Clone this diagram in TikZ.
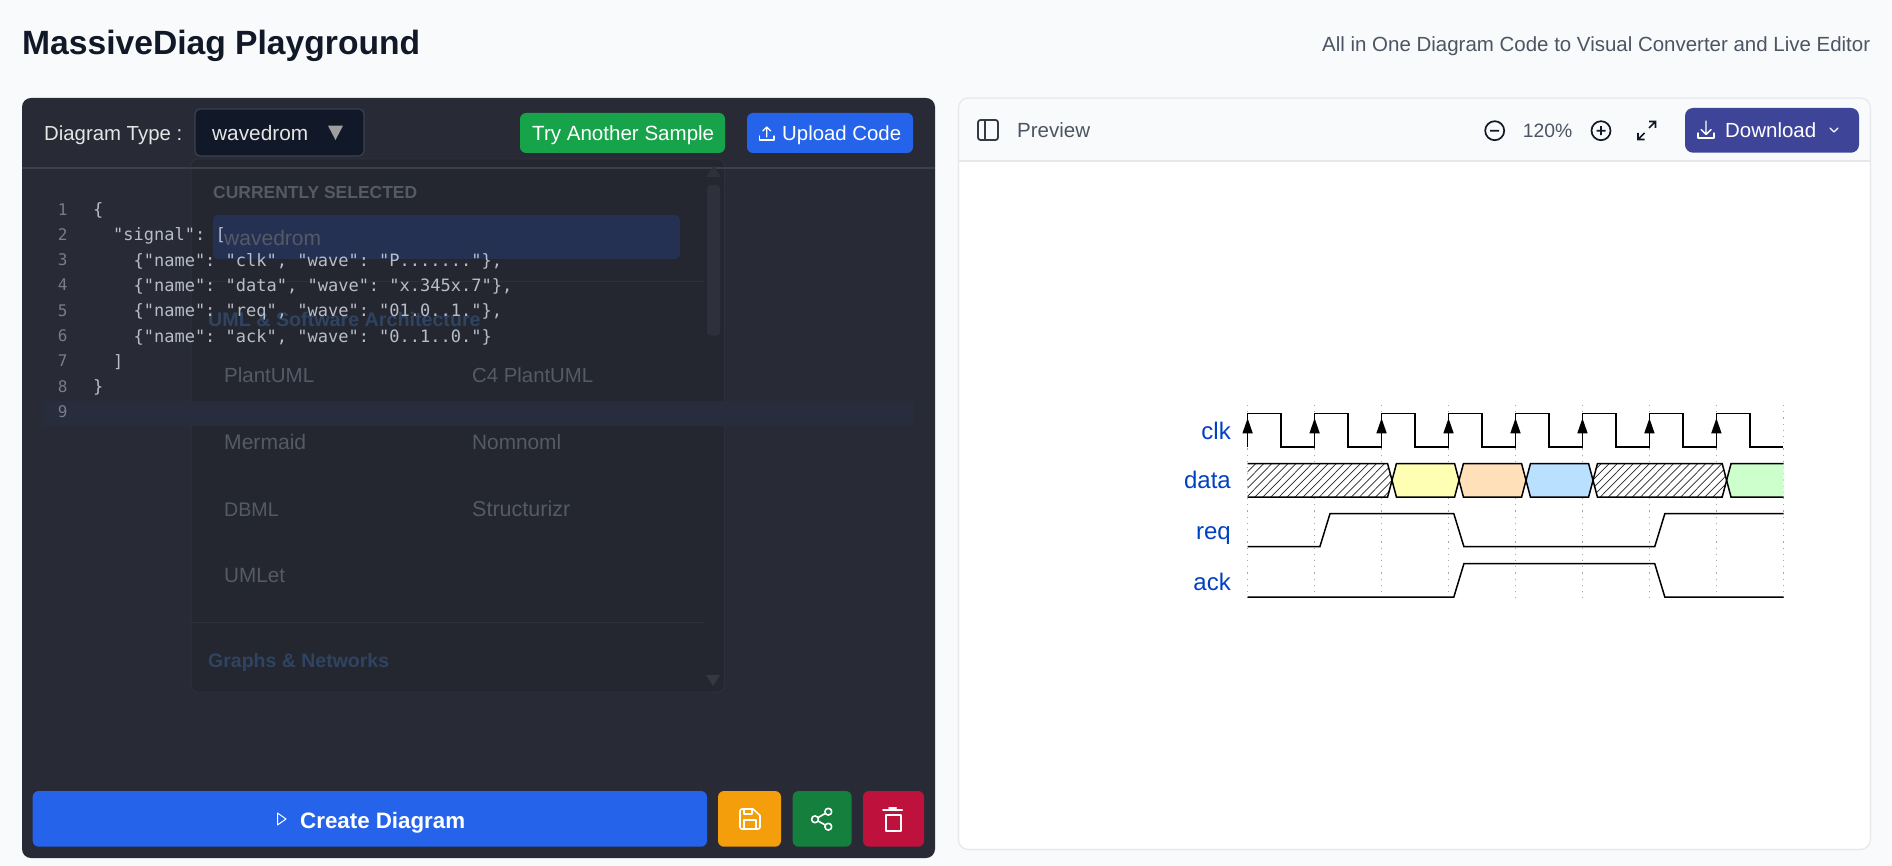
\documentclass[tikz,border=0pt]{standalone}
\usepackage{graphicx}
\usepackage{fontspec}
\setmainfont{Liberation Sans}
\newfontfamily\cfont{DejaVu Sans Mono}
\frenchspacing
\definecolor{pagebg}{HTML}{F9FAFB}
\definecolor{panel}{HTML}{282A36}
\definecolor{drop}{HTML}{24272F}
\definecolor{dropline}{HTML}{2E313B}
\definecolor{hdrline}{HTML}{3C3F50}
\definecolor{sel}{HTML}{111827}
\definecolor{selb}{HTML}{3A4252}
\definecolor{hilite}{HTML}{253152}
\definecolor{band}{HTML}{272D3C}
\definecolor{dimtxt}{HTML}{555A66}
\definecolor{cattxt}{HTML}{2F4462}
\definecolor{codetxt}{HTML}{B8BDC8}
\definecolor{numtxt}{HTML}{777D8A}
\definecolor{bluebtn}{HTML}{2563EB}
\definecolor{greenbtn}{HTML}{16A34A}
\definecolor{ambbtn}{HTML}{F59E0B}
\definecolor{sharebtn}{HTML}{15803D}
\definecolor{redbtn}{HTML}{BE123C}
\definecolor{dlbtn}{HTML}{3E4598}
\definecolor{graytxt}{HTML}{4B5563}
\definecolor{ink}{HTML}{111827}
\definecolor{edge}{HTML}{E5E7EB}
\definecolor{wavelabel}{HTML}{0041C4}
\definecolor{cthree}{HTML}{FFFFB4}
\definecolor{cfour}{HTML}{FFE0B9}
\definecolor{cfive}{HTML}{B9E0FF}
\definecolor{cseven}{HTML}{CCFFCC}
% name, left x, centre y, width, colour, font, text
\newcommand{\ftext}[7]{\node[anchor=west,inner sep=0pt,text=#5] (#1) at (#2,#3+2.4) {\resizebox{#4pt}{!}{\fontsize{20pt}{24pt}\selectfont #6\vphantom{Xg}#7}};}
\newcommand{\codeline}[3]{\node[anchor=west,inner sep=0pt,text=codetxt,font=\cfont\fontsize{17pt}{20pt}\selectfont] (code#1) at (#2,#1*25.3+185.6) {\vphantom{Xg}#3};}
\tikzset{
  wave/.style={draw=black,line width=1.5pt,line join=miter},
  gridl/.style={draw=gray!70,line width=0.9pt,dash pattern=on 1.2pt off 5pt},
  icon/.style={draw=white,line width=1.6pt,line cap=round,line join=round},
  btn/.style={rounded corners=6pt},
  hatchl/.style={draw=black!85,line width=0.7pt},
}
\begin{document}
\begin{tikzpicture}[x=1pt,y=-1pt]
\useasboundingbox (0,0) rectangle (1892,866);
\fill[pagebg] (0,0) rectangle (1892,866);
% header
\ftext{title}{22}{43.4}{398}{ink}{\bfseries}{MassiveDiag Playground}
\ftext{subtitle}{1322}{43.4}{548}{graytxt}{}{All in One Diagram Code to Visual Converter and Live Editor}
% left panel
\fill[panel,rounded corners=9pt] (22,98) rectangle (935,858);
% dropdown ghost
\filldraw[fill=drop,draw=dropline,line width=1pt,rounded corners=7pt] (191,159) rectangle (724.5,692);
\draw[hdrline,line width=1.5pt] (22,168) -- (935,168);
\fill[band] (44,401) rectangle (914,426);
\fill[hilite,rounded corners=5pt] (213,215) rectangle (680,259);
\draw[dropline,line width=1pt] (191,282) -- (703,282);
\draw[dropline,line width=1pt] (191,622.7) -- (703,622.7);
\fill[dropline] (706,177) -- (721,177) -- (713.5,166) -- cycle;
\fill[dropline,rounded corners=4pt] (707,185) rectangle (720,335.7);
\fill[dropline!115!black] (706,675) -- (720,675) -- (713,686) -- cycle;
\ftext{cursel}{213}{192}{204}{dimtxt}{\bfseries}{CURRENTLY SELECTED}
\ftext{wavesel}{224}{237.7}{97}{dimtxt}{}{wavedrom}
\ftext{catuml}{208}{319}{272.5}{cattxt}{\bfseries}{UML \& Software Architecture}
\ftext{plant}{224}{375}{90}{dimtxt}{}{PlantUML}
\ftext{cfour}{472}{375}{121}{dimtxt}{}{C4 PlantUML}
\ftext{merm}{224}{441.7}{82}{dimtxt}{}{Mermaid}
\ftext{nomn}{472}{441.7}{89}{dimtxt}{}{Nomnoml}
\ftext{dbml}{224}{509}{54.6}{dimtxt}{}{DBML}
\ftext{struc}{472}{509}{98}{dimtxt}{}{Structurizr}
\ftext{umlet}{224}{575}{61}{dimtxt}{}{UMLet}
\ftext{catgraph}{208}{660}{181}{cattxt}{\bfseries}{Graphs \& Networks}
% toolbar
\ftext{dtype}{44}{133}{138}{gray!20}{}{Diagram Type :}
\filldraw[fill=sel,draw=selb,line width=1.2pt,rounded corners=5pt] (195,109) rectangle (364,156);
\ftext{wavetype}{212}{133}{96}{gray!20}{}{wavedrom}
\fill[gray!75] (328,125.7) -- (343,125.7) -- (335.5,140) -- cycle;
\fill[greenbtn,btn] (520,113) rectangle (725,153);
\ftext{trybtn}{532}{133}{182}{white}{}{Try Another Sample}
\fill[bluebtn,btn] (747,113) rectangle (913,153);
\draw[icon,line width=1.2pt] (766.7,137) -- (766.7,127) (762.7,131) -- (766.7,127) -- (770.7,131);
\draw[icon,line width=1.2pt] (759.5,136) -- (759.5,140) -- (774,140) -- (774,136);
\ftext{upbtn}{782}{133}{119}{white}{}{Upload Code}
% code
\foreach \i in {1,...,9} {
  \node[anchor=center,inner sep=0pt,text=numtxt,font=\cfont\fontsize{16pt}{20pt}\selectfont] (num\i) at (62.7,\i*25.3+185.6) {\vphantom{Xg}\i};
}
\codeline{1}{93}{\{}
\codeline{2}{113}{"signal": [}
\codeline{3}{133.4}{\{"name": "clk", "wave": "P......."\},}
\codeline{4}{133.4}{\{"name": "data", "wave": "x.345x.7"\},}
\codeline{5}{133.4}{\{"name": "req", "wave": "01.0..1."\},}
\codeline{6}{133.4}{\{"name": "ack", "wave": "0..1..0."\}}
\codeline{7}{113}{]}
\codeline{8}{93}{\}}
% bottom buttons
\fill[bluebtn,btn] (32.7,791) rectangle (707,846.7);
\draw[white,line width=1pt,line join=round] (277.5,813) -- (286,819) -- (277.5,825) -- cycle;
\ftext{createbtn}{300}{820}{165}{white}{\bfseries}{Create Diagram}
\fill[ambbtn,btn] (718,791) rectangle (781,846.7);
\draw[icon] (742,809) -- (753,809) -- (760,815.5) -- (760,827) [rounded corners=2pt] -- (760,829) -- (740,829) -- (740,809) -- (742,809);
\draw[icon] (744,809) -- (744,814) -- (752,814) -- (752,809);
\draw[icon] (744,829) -- (744,820) -- (756,820) -- (756,829);
\fill[sharebtn,btn] (792.7,791) rectangle (851.7,846.7);
\draw[icon] (828.3,811.7) circle (3.4) (815,819.3) circle (3.4) (828.3,826.7) circle (3.4);
\draw[icon] (818,817.6) -- (825.3,813.4) (818,821) -- (825.3,825);
\fill[redbtn,btn] (863,791) rectangle (924,846.7);
\draw[icon,line width=2pt] (883,810) -- (902,810) (889,807.5) -- (896,807.5);
\draw[icon,line width=2pt] (886,815) -- (886,830.5) -- (900.5,830.5) -- (900.5,815) -- cycle;
% preview panel
\fill[white,rounded corners=10pt] (958.4,98) rectangle (1870.4,849.5);
\begin{scope}
\clip[rounded corners=10pt] (958.4,98) rectangle (1870.4,849.5);
\fill[pagebg] (958.4,98) rectangle (1870.4,161);
\draw[edge,line width=1.2pt] (958.4,161) -- (1870.4,161);
\end{scope}
\draw[edge,line width=1.2pt,rounded corners=10pt] (958.4,98) rectangle (1870.4,849.5);
\draw[graytxt!70!black,line width=1.8pt,rounded corners=2.5pt] (978,120) rectangle (998,140);
\draw[graytxt!70!black,line width=1.8pt] (985,120) -- (985,140);
\ftext{preview}{1017}{130}{73}{graytxt}{}{Preview}
\draw[ink,line width=1.7pt] (1494.7,130.7) circle (9.5) (1490.2,130.7) -- (1499.2,130.7);
\ftext{zoomv}{1522.7}{130.7}{49.5}{graytxt}{}{120\%}
\draw[ink,line width=1.7pt] (1601,130.7) circle (9.5) (1596.5,130.7) -- (1605.5,130.7) (1601,126.2) -- (1601,135.2);
\draw[ink,line width=1.7pt,line join=miter] (1638,133) -- (1638,139.5) -- (1644.5,139.5) (1638,139.5) -- (1644.5,133);
\draw[ink,line width=1.7pt,line join=miter] (1649,121.5) -- (1655.5,121.5) -- (1655.5,128) (1655.5,121.5) -- (1649,128);
\fill[dlbtn,rounded corners=8pt] (1685,108) rectangle (1859,152.7);
\draw[icon,line width=1.4pt] (1706,121) -- (1706,134) (1701,129.5) -- (1706,134.5) -- (1711,129.5);
\draw[icon,line width=1.4pt] (1698,133) -- (1698,138) -- (1714,138) -- (1714,133);
\ftext{dlbtntxt}{1725}{130}{91}{white}{}{Download}
\draw[icon,line width=1.2pt] (1830,128) -- (1834,132) -- (1838,128);
% waveform
\def\xo{1247.6}\def\pp{66.97}
\foreach \t in {0,...,8} {
  \draw[gridl] ({\xo+\t*\pp},405) -- ({\xo+\t*\pp},603);
}
\foreach \nm/\yy/\ww in {lclk/433/clk,ldata/482/data,lreq/534/req,lack/584/ack} {
  \node[anchor=east,inner sep=0pt,text=wavelabel,font=\fontsize{24pt}{28pt}\selectfont] (\nm) at (1231,\yy) {\vphantom{Xg}\ww};
}
% clk
\draw[wave] (\xo,447)
  \foreach \t in {0,...,7} {
    -- ({\xo+\t*\pp},413.3) -- ({\xo+(\t+0.5)*\pp},413.3) -- ({\xo+(\t+0.5)*\pp},447) -- ({\xo+(\t+1)*\pp},447)
  };
\foreach \t in {0,...,7} {
  \fill[black] ({\xo+\t*\pp},418.3) -- ({\xo+\t*\pp+5.2},433.3) -- ({\xo+\t*\pp-5.2},433.3) -- cycle;
}
% data
\def\xa{1392}\def\xb{1459}\def\xc{1526}\def\xd{1593}\def\xe{1726.6}\def\xf{1783.5}
\def\ytop{463.7}\def\ybot{497}\def\ymid{480.35}\def\dx{4.4}
\begin{scope}
\clip (\xo,\ytop) -- ({\xa-\dx},\ytop) -- (\xa,\ymid) -- ({\xa-\dx},\ybot) -- (\xo,\ybot) -- cycle;
\fill[white] (\xo,\ytop) rectangle (\xa,\ybot);
\foreach \k in {0,...,21} { \draw[hatchl] ({\xo-33+\k*8.05},\ybot) -- ({\xo+\k*8.05},\ytop); }
\end{scope}
\begin{scope}
\clip (\xd,\ymid) -- ({\xd+\dx},\ytop) -- ({\xe-\dx},\ytop) -- (\xe,\ymid) -- ({\xe-\dx},\ybot) -- ({\xd+\dx},\ybot) -- cycle;
\fill[white] (\xd,\ytop) rectangle (\xe,\ybot);
\foreach \k in {0,...,21} { \draw[hatchl] ({\xd-33+\k*8.05},\ybot) -- ({\xd+\k*8.05},\ytop); }
\end{scope}
\fill[cthree] (\xa,\ymid) -- ({\xa+\dx},\ytop) -- ({\xb-\dx},\ytop) -- (\xb,\ymid) -- ({\xb-\dx},\ybot) -- ({\xa+\dx},\ybot) -- cycle;
\fill[cfour] (\xb,\ymid) -- ({\xb+\dx},\ytop) -- ({\xc-\dx},\ytop) -- (\xc,\ymid) -- ({\xc-\dx},\ybot) -- ({\xb+\dx},\ybot) -- cycle;
\fill[cfive] (\xc,\ymid) -- ({\xc+\dx},\ytop) -- ({\xd-\dx},\ytop) -- (\xd,\ymid) -- ({\xd-\dx},\ybot) -- ({\xc+\dx},\ybot) -- cycle;
\fill[cseven] (\xe,\ymid) -- ({\xe+\dx},\ytop) -- (\xf,\ytop) -- (\xf,\ybot) -- ({\xe+\dx},\ybot) -- cycle;
\draw[wave] (\xo,\ytop) -- ({\xa-\dx},\ytop) -- ({\xa+\dx},\ybot) -- ({\xb-\dx},\ybot) -- ({\xb+\dx},\ytop) -- ({\xc-\dx},\ytop) -- ({\xc+\dx},\ybot) -- ({\xd-\dx},\ybot) -- ({\xd+\dx},\ytop) -- ({\xe-\dx},\ytop) -- ({\xe+\dx},\ybot) -- (\xf,\ybot);
\draw[wave] (\xo,\ybot) -- ({\xa-\dx},\ybot) -- ({\xa+\dx},\ytop) -- ({\xb-\dx},\ytop) -- ({\xb+\dx},\ybot) -- ({\xc-\dx},\ybot) -- ({\xc+\dx},\ytop) -- ({\xd-\dx},\ytop) -- ({\xd+\dx},\ybot) -- ({\xe-\dx},\ybot) -- ({\xe+\dx},\ytop) -- (\xf,\ytop);
% req
\draw[wave] (\xo,546.7) -- ({\xo+\pp+5.3},546.7) -- ({\xo+\pp+15.4},513.7) -- ({\xo+3*\pp+5.3},513.7) -- ({\xo+3*\pp+15.4},546.7) -- ({\xo+6*\pp+5.3},546.7) -- ({\xo+6*\pp+15.4},513.7) -- (\xf,513.7);
% ack
\draw[wave] (\xo,597) -- ({\xo+3*\pp+5.3},597) -- ({\xo+3*\pp+15.4},563.7) -- ({\xo+6*\pp+5.3},563.7) -- ({\xo+6*\pp+15.4},597) -- (\xf,597);
\end{tikzpicture}
\end{document}
